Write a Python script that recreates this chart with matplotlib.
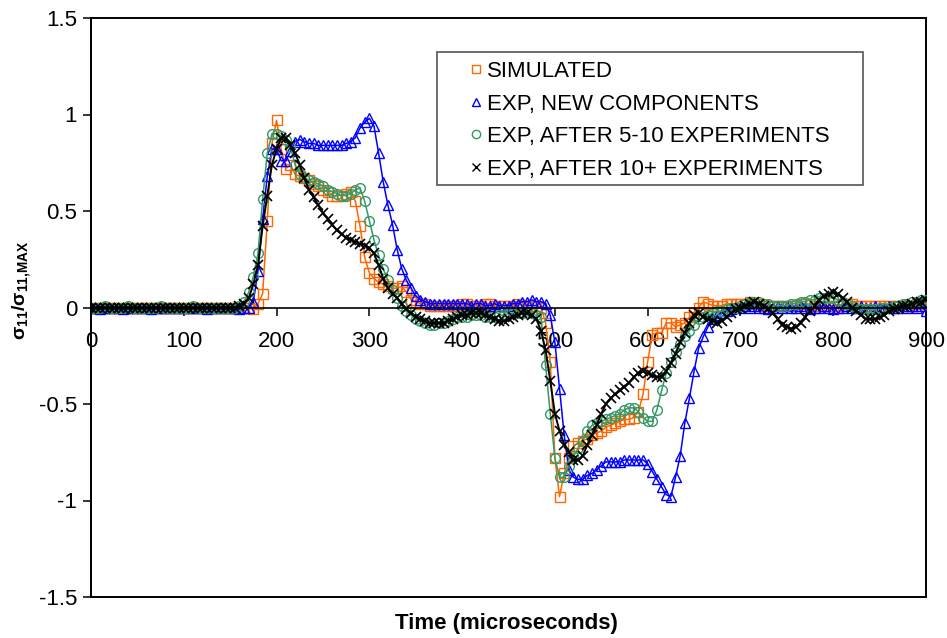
'''
stress ratio vs time, simulated and experimental pulses
'''
import matplotlib
matplotlib.use('agg')
import matplotlib.pyplot as plt
from matplotlib.lines import Line2D
from matplotlib.patches import Rectangle
import numpy as np

plt.rcParams['font.family'] = ['Liberation Sans', 'DejaVu Sans']
plt.rcParams['mathtext.fontset'] = 'custom'
plt.rcParams['mathtext.bf'] = 'Liberation Sans:bold'
plt.rcParams['mathtext.rm'] = 'Liberation Sans:bold'
plt.rcParams['mathtext.default'] = 'bf'

########################################################################
# data (one value every 5 microseconds, 0..900) ------------------------
########################################################################
time_us = np.arange(0, 905, 5)

simulated = [
    0.00, 0.00, 0.00, 0.00, 0.00, 0.00, 0.00, 0.00, 0.00, 0.00,        # 0-45
    0.00, 0.00, 0.00, 0.00, 0.00, 0.00, 0.00, 0.00, 0.00, 0.00,        # 50-95
    0.00, 0.00, 0.00, 0.00, 0.00, 0.00, 0.00, 0.00, 0.00, 0.00,        # 100-145
    0.00, 0.00, 0.00, 0.00, 0.00, -0.01, 0.02, 0.07, 0.45, 0.85,       # 150-195
    0.97, 0.82, 0.72, 0.74, 0.69, 0.68, 0.67, 0.66, 0.64, 0.63,        # 200-245
    0.61, 0.60, 0.58, 0.58, 0.58, 0.59, 0.60, 0.55, 0.42, 0.26,        # 250-295
    0.18, 0.15, 0.13, 0.12, 0.11, 0.10, 0.10, 0.11, 0.08, 0.04,        # 300-345
    0.03, 0.02, 0.02, 0.01, 0.01, 0.01, 0.01, 0.01, 0.01, 0.01,        # 350-395
    0.02, 0.02, 0.01, 0.01, 0.01, 0.02, 0.02, 0.01, 0.01, 0.01,        # 400-445
    0.01, 0.01, 0.02, 0.01, 0.01, 0.01, 0.01, 0.00, -0.08, -0.28,      # 450-495
    -0.78, -0.98, -0.86, -0.78, -0.72, -0.70, -0.69, -0.68, -0.66, -0.65,  # 500-545
    -0.64, -0.62, -0.61, -0.60, -0.59, -0.58, -0.58, -0.57, -0.54, -0.45,  # 550-595
    -0.28, -0.14, -0.13, -0.13, -0.08, -0.08, -0.10, -0.09, -0.08, -0.05,  # 600-645
    -0.03, 0.00, 0.03, 0.02, 0.01, 0.01, 0.01, 0.02, 0.02, 0.02,       # 650-695
    0.02, 0.02, 0.03, 0.02, 0.02, 0.01, 0.01, 0.01, 0.01, 0.01,        # 700-745
    0.01, 0.01, 0.01, 0.02, 0.02, 0.02, 0.01, 0.01, 0.01, 0.01,        # 750-795
    0.01, 0.01, 0.01, 0.02, 0.02, 0.01, 0.01, 0.01, 0.01, 0.01,        # 800-845
    0.01, 0.01, 0.01, 0.01, 0.01, 0.01, 0.01, 0.01, 0.02, 0.02,        # 850-895
    0.02]                                                              # 900

exp_new = [
    0.00, 0.00, -0.01, 0.00, 0.00, 0.00, 0.00, -0.01, 0.00, 0.00,      # 0-45
    0.00, 0.00, 0.00, -0.01, 0.00, 0.00, 0.00, 0.00, 0.00, 0.00,       # 50-95
    0.00, 0.00, 0.00, 0.00, 0.00, -0.01, 0.00, 0.00, 0.00, 0.00,       # 100-145
    0.00, 0.00, -0.01, 0.00, 0.00, 0.03, 0.19, 0.46, 0.68, 0.82,       # 150-195
    0.82, 0.76, 0.76, 0.81, 0.86, 0.87, 0.86, 0.85, 0.85, 0.84,        # 200-245
    0.84, 0.84, 0.84, 0.84, 0.84, 0.85, 0.86, 0.88, 0.93, 0.96,        # 250-295
    0.98, 0.94, 0.80, 0.65, 0.53, 0.43, 0.30, 0.20, 0.14, 0.10,        # 300-345
    0.06, 0.04, 0.03, 0.02, 0.02, 0.02, 0.02, 0.02, 0.02, 0.02,        # 350-395
    0.02, 0.02, 0.01, 0.02, 0.02, 0.01, 0.01, 0.02, 0.01, 0.01,        # 400-445
    0.01, 0.02, 0.02, 0.03, 0.03, 0.04, 0.03, 0.03, 0.02, -0.04,       # 450-495
    -0.18, -0.42, -0.66, -0.84, -0.88, -0.89, -0.89, -0.87, -0.86, -0.84,  # 500-545
    -0.82, -0.80, -0.80, -0.80, -0.80, -0.79, -0.79, -0.79, -0.79, -0.79,  # 550-595
    -0.81, -0.85, -0.89, -0.93, -0.97, -0.98, -0.88, -0.77, -0.60, -0.47,  # 600-645
    -0.33, -0.21, -0.15, -0.10, -0.06, -0.04, -0.03, -0.02, -0.01, 0.00,   # 650-695
    0.00, 0.01, 0.00, 0.01, 0.00, 0.00, -0.01, 0.00, 0.01, 0.00,       # 700-745
    0.01, 0.00, 0.00, 0.01, 0.00, -0.01, 0.00, 0.00, 0.01, 0.00,       # 750-795
    -0.01, 0.00, 0.00, 0.01, 0.00, 0.00, 0.01, 0.00, 0.00, 0.01,       # 800-845
    0.00, 0.00, 0.01, 0.00, 0.00, 0.01, 0.00, 0.01, 0.00, 0.01,        # 850-895
    -0.02]                                                             # 900

exp_5_10 = [
    0.00, 0.00, 0.00, 0.01, 0.00, 0.00, 0.00, 0.00, 0.01, 0.00,        # 0-45
    0.00, 0.00, 0.00, 0.00, 0.00, 0.01, 0.00, 0.00, 0.00, 0.00,        # 50-95
    0.00, 0.00, 0.01, 0.00, 0.00, 0.00, 0.00, 0.00, 0.00, 0.00,        # 100-145
    0.00, 0.00, 0.01, 0.03, 0.08, 0.16, 0.28, 0.56, 0.80, 0.90,        # 150-195
    0.90, 0.89, 0.87, 0.83, 0.74, 0.69, 0.67, 0.66, 0.65, 0.64,        # 200-245
    0.63, 0.61, 0.60, 0.59, 0.58, 0.58, 0.59, 0.61, 0.62, 0.55,        # 250-295
    0.45, 0.35, 0.27, 0.20, 0.14, 0.09, 0.05, 0.01, -0.02, -0.04,      # 300-345
    -0.06, -0.07, -0.08, -0.09, -0.09, -0.08, -0.08, -0.07, -0.06, -0.05,  # 350-395
    -0.05, -0.05, -0.04, -0.04, -0.04, -0.05, -0.05, -0.05, -0.04, -0.04,  # 400-445
    -0.03, -0.03, -0.03, -0.03, -0.03, -0.03, -0.04, -0.05, -0.30, -0.55,  # 450-495
    -0.78, -0.88, -0.88, -0.82, -0.77, -0.73, -0.69, -0.64, -0.61, -0.60,  # 500-545
    -0.59, -0.58, -0.57, -0.56, -0.55, -0.53, -0.52, -0.52, -0.54, -0.57,  # 550-595
    -0.59, -0.59, -0.53, -0.43, -0.34, -0.28, -0.23, -0.19, -0.15, -0.12,  # 600-645
    -0.09, -0.06, -0.05, -0.04, -0.03, -0.02, -0.02, -0.01, 0.00, 0.00,    # 650-695
    0.01, 0.02, 0.03, 0.03, 0.03, 0.02, 0.02, 0.01, 0.01, 0.01,        # 700-745
    0.01, 0.02, 0.02, 0.03, 0.03, 0.04, 0.04, 0.05, 0.05, 0.05,        # 750-795
    0.05, 0.04, 0.03, 0.02, 0.01, 0.00, -0.01, -0.01, -0.01, -0.01,    # 800-845
    0.00, 0.00, 0.00, 0.01, 0.01, 0.02, 0.02, 0.03, 0.03, 0.04,        # 850-895
    0.04]                                                              # 900

exp_10plus = [
    0.00, 0.00, 0.00, 0.00, 0.00, 0.00, 0.00, 0.00, 0.00, 0.00,        # 0-45
    0.00, 0.00, 0.00, 0.00, 0.00, 0.00, 0.00, 0.00, 0.00, 0.00,        # 50-95
    0.00, 0.00, 0.00, 0.00, 0.00, 0.00, 0.00, 0.00, 0.00, 0.00,        # 100-145
    0.00, 0.00, 0.01, 0.02, 0.05, 0.12, 0.22, 0.42, 0.58, 0.74,        # 150-195
    0.82, 0.88, 0.88, 0.84, 0.80, 0.74, 0.67, 0.61, 0.57, 0.53,        # 200-245
    0.49, 0.46, 0.43, 0.40, 0.38, 0.36, 0.35, 0.34, 0.33, 0.32,        # 250-295
    0.31, 0.28, 0.22, 0.15, 0.10, 0.07, 0.05, 0.02, -0.01, -0.03,      # 300-345
    -0.05, -0.06, -0.07, -0.08, -0.08, -0.08, -0.08, -0.07, -0.06, -0.05,  # 350-395
    -0.04, -0.04, -0.03, -0.03, -0.03, -0.04, -0.05, -0.06, -0.07, -0.07,  # 400-445
    -0.06, -0.05, -0.04, -0.03, -0.03, -0.04, -0.06, -0.12, -0.22, -0.38,  # 450-495
    -0.55, -0.64, -0.71, -0.75, -0.79, -0.79, -0.77, -0.71, -0.66, -0.61,  # 500-545
    -0.55, -0.50, -0.47, -0.45, -0.43, -0.41, -0.39, -0.36, -0.34, -0.33,  # 550-595
    -0.34, -0.35, -0.36, -0.36, -0.33, -0.29, -0.24, -0.18, -0.13, -0.08,  # 600-645
    -0.04, -0.03, -0.05, -0.06, -0.07, -0.08, -0.07, -0.05, -0.03, -0.01,  # 650-695
    0.00, 0.01, 0.02, 0.03, 0.02, 0.01, -0.01, -0.03, -0.06, -0.09,    # 700-745
    -0.10, -0.11, -0.10, -0.08, -0.05, -0.02, 0.01, 0.04, 0.06, 0.07,  # 750-795
    0.08, 0.07, 0.05, 0.03, 0.00, -0.02, -0.04, -0.06, -0.06, -0.06,   # 800-845
    -0.05, -0.04, -0.02, -0.01, 0.00, 0.01, 0.01, 0.02, 0.03, 0.03,    # 850-895
    0.04]                                                              # 900

labels = ['SIMULATED', 'EXP, NEW COMPONENTS',
          'EXP, AFTER 5-10 EXPERIMENTS', 'EXP, AFTER 10+ EXPERIMENTS']
colors = ['#FF6600', '#0000FF', '#339966', '#000000']
markers = ['s', '^', 'o', 'x']

x_ticks = [0, 100, 200, 300, 400, 500, 600, 700, 800, 900]
y_ticks = [-1.5, -1, -0.5, 0, 0.5, 1, 1.5]
y_tick_labels = ['-1.5', '-1', '-0.5', '0', '0.5', '1', '1.5']

########################################################################
# plot -----------------------------------------------------------------
########################################################################
fig = plt.figure(figsize=(9.47, 6.38), dpi=100)
ax = fig.add_axes([91/947, 41/638, 835/947, 579/638])

series = [simulated, exp_new, exp_5_10, exp_10plus]
for vals, c, m in zip(series, colors, markers):
    if m == 'x':
        ax.plot(time_us, vals, color=c, lw=1.4, marker=m, ms=7, mew=1.2)
    else:
        ax.plot(time_us, vals, color=c, lw=1.1, marker=m, ms=7,
                mfc='none', mec=c, mew=1.0)

ax.set_xlim(0, 900)
ax.set_ylim(-1.5, 1.5)

# x axis crosses at y=0, frame drawn separately
ax.spines['bottom'].set_position(('data', 0))
for s in ['top', 'right']:
    ax.spines[s].set_visible(False)
ax.spines['bottom'].set_linewidth(1.2)
ax.spines['left'].set_linewidth(1.2)
ax.add_patch(Rectangle((0, 0), 1, 1, transform=ax.transAxes, fill=False,
                       lw=1.4, ec='black', clip_on=False, zorder=0))

ax.set_xticks(x_ticks)
ax.set_yticks(y_ticks, y_tick_labels)
ax.tick_params(axis='both', direction='out', length=6, width=1.1,
               labelsize=16, pad=4)
ax.tick_params(axis='x', pad=11)

fig.text(22/947, 1-290/638, r'$\sigma_{11}/\sigma_{11{,}MAX}$', fontsize=14,
         rotation=90, ha='center', va='center')
fig.text(506/947, 1-623/638, 'Time (microseconds)', fontsize=16,
         fontweight='bold', ha='center', va='center')

# legend: entries without frame, box drawn around them
handles = [Line2D([], [], ls='none', marker=m, color=c, mfc='none', mec=c,
                  ms=6, mew=1.0) for c, m in zip(colors, markers)]
leg = ax.legend(handles, labels, loc='upper left',
                bbox_to_anchor=(467/947, 1-61/638),
                bbox_transform=fig.transFigure, fontsize=16,
                frameon=False, handlelength=0.8, handletextpad=0.1,
                labelspacing=0.52, borderpad=0, borderaxespad=0)
fig.patches.append(Rectangle((437/947, 1-185/638), 426/947, 133/638,
                             transform=fig.transFigure, fill=False,
                             ec='#555555', lw=1.2))

fig.savefig('out.png', dpi=100)
